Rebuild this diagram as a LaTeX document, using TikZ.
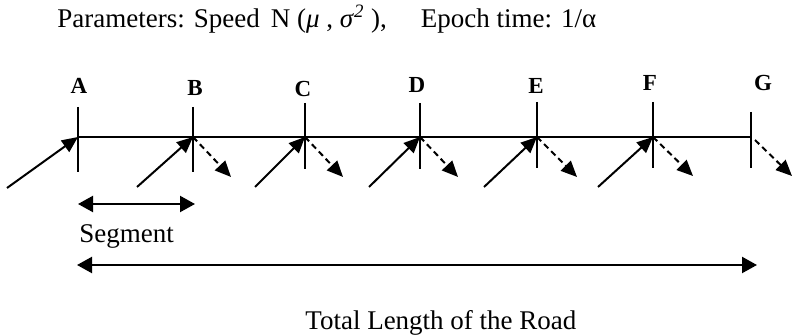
\documentclass[tikz,border=0pt]{standalone}
\usepackage{fontspec}
\setmainfont{Liberation Serif}
\usetikzlibrary{arrows.meta}
\begin{document}
\begin{tikzpicture}[x=0.5pt,y=-0.5pt,
  road/.style={line width=1.1pt},
  tickline/.style={line width=1pt},
  inarrow/.style={line width=1pt,-{Triangle[length=8pt,width=7pt]}},
  outarrow/.style={line width=1pt,dash pattern=on 3pt off 2pt,-{Triangle[length=8pt,width=7pt]}},
  spanarrow/.style={line width=1.1pt,{Triangle[length=7.5pt,width=8pt]}-{Triangle[length=7.5pt,width=8pt]}},
  lbl/.style={font=\fontsize{11.5pt}{13pt}\selectfont\bfseries, inner sep=0pt},
  txt/.style={font=\fontsize{13.5pt}{16pt}\selectfont, inner sep=0pt, anchor=base west}]
\useasboundingbox (0,0) rectangle (793,335);

% header
\node[txt] (hdr) at (57,28) {Parameters: Speed\hspace{5.5pt}N (\textit{μ} , \textit{σ}\textsuperscript{\textit{2}} ),\hspace{17pt}Epoch time: 1/α};

% points on the road
\coordinate (A) at (78,137);
\coordinate (B) at (193,137);
\coordinate (C) at (305,137);
\coordinate (D) at (420,137);
\coordinate (E) at (537,137);
\coordinate (F) at (653,137);
\coordinate (G) at (751,137);

% road
\draw[road] (A) -- (G);

% ticks
\coordinate (At) at (78,107);  \coordinate (Ab) at (78,172);
\coordinate (Bt) at (193,107); \coordinate (Bb) at (193,172);
\coordinate (Ct) at (305,103); \coordinate (Cb) at (305,169);
\coordinate (Dt) at (420,103); \coordinate (Db) at (420,169);
\coordinate (Et) at (537,102); \coordinate (Eb) at (537,168);
\coordinate (Ft) at (653,102); \coordinate (Fb) at (653,168);
\coordinate (Gt) at (751,112); \coordinate (Gb) at (751,168);
\foreach \p in {A,B,C,D,E,F,G} \draw[tickline] (\p t) -- (\p b);

% labels
\node[lbl] (lA) at (79,86) {A};
\node[lbl] (lB) at (195,88) {B};
\node[lbl] (lC) at (303,89) {C};
\node[lbl] (lD) at (417,85) {D};
\node[lbl] (lE) at (536,86) {E};
\node[lbl] (lF) at (650,83) {F};
\node[lbl] (lG) at (763,83) {G};

% incoming arrows
\coordinate (Ain) at (7,188);
\coordinate (Bin) at (137,187);
\coordinate (Cin) at (255,187);
\coordinate (Din) at (369,187);
\coordinate (Ein) at (484,187);
\coordinate (Fin) at (598,187);
\foreach \p in {A,B,C,D,E,F} \draw[inarrow] (\p in) -- (\p);

% outgoing dashed arrows
\coordinate (Bout) at (231,177);
\coordinate (Cout) at (343,177);
\coordinate (Dout) at (458,177);
\coordinate (Eout) at (577,177);
\coordinate (Fout) at (693,176);
\coordinate (Gs) at (755,140);
\coordinate (Gout) at (792,176);
\foreach \p in {B,C,D,E,F} \draw[outarrow] (\p) -- (\p out);
\draw[outarrow] (Gs) -- (Gout);

% segment
\coordinate (s1) at (78,204);
\coordinate (s2) at (195,204);
\draw[spanarrow] (s1) -- (s2);
\node[txt] (seg) at (79,243) {Segment};

% total length
\coordinate (t1) at (77,265);
\coordinate (t2) at (757,265);
\draw[spanarrow] (t1) -- (t2);
\node[txt] (tot) at (305,330) {Total Length of the Road};
\end{tikzpicture}
\end{document}
